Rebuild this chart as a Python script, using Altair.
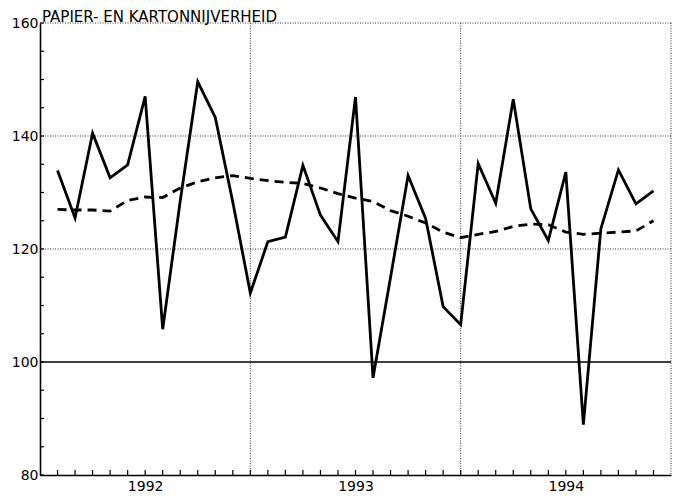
import altair as alt
import pandas as pd

# month index: 1 = Feb 1992 boundary ... 35 (36 = end of 1994)
months = list(range(1, 36))
index_values = [133.9, 125.5, 140.5, 132.6, 134.9, 147.0, 105.8, 128.5, 149.6, 143.3, 128.3, 112.2,
                121.3, 122.1, 134.8, 126.0, 121.3, 146.9, 97.2, 115.0, 133.0, 125.4, 109.8, 106.6,
                135.1, 128.1, 146.5, 127.1, 121.5, 133.6, 88.9, 123.6, 134.0, 128.0, 130.3]
trend_values = [127.0, 126.9, 126.9, 126.7, 128.6, 129.2, 129.1, 130.8, 131.9, 132.6, 133.0, 132.5,
                132.1, 131.8, 131.6, 130.8, 129.8, 129.0, 128.4, 126.8, 125.8, 124.6, 123.0, 122.0,
                122.6, 123.1, 124.0, 124.4, 124.3, 123.0, 122.6, 122.8, 123.0, 123.2, 125.0]
year_labels = ["1992", "1993", "1994"]
year_label_pos = [6, 18, 30]
year_bounds = [12, 24, 36]
hgrid = [120, 140, 160]
y_labels = [80, 100, 120, 140, 160]
y_minor = list(range(80, 161, 5))
title_text = "PAPIER- EN KARTONNIJVERHEID"

FONT = "DejaVu Sans"
W, H = 631, 452

xs = alt.Scale(domain=[0, 36], nice=False, zero=False)
ys = alt.Scale(domain=[80, 160], nice=False, zero=False)

df = pd.DataFrame({"m": months, "v": index_values, "t": trend_values})

label_expr = " : ".join(
    [f"datum.value == {p} ? '{l}'" for p, l in zip(year_label_pos, year_labels)]) + " : ''"

base = alt.Chart(df)

axes_layer = base.mark_point(opacity=0).encode(
    x=alt.X("m:Q", scale=xs,
            axis=alt.Axis(values=year_label_pos, labelExpr=label_expr, ticks=False, grid=False,
                          domainColor="black", domainWidth=1.6, labelFont=FONT, labelFontSize=14,
                          labelColor="black", labelPadding=4, title=None)),
    y=alt.Y("v:Q", scale=ys,
            axis=alt.Axis(values=y_labels, ticks=False, grid=False, domainColor="black",
                          domainWidth=1.6, labelFont=FONT, labelFontSize=14, labelColor="black",
                          labelPadding=2, title=None)),
)

hgrid_layer = alt.Chart(pd.DataFrame({"g": hgrid})).mark_rule(
    color="#333", strokeWidth=1, strokeDash=[1, 1.5]).encode(y=alt.Y("g:Q", scale=ys))

vgrid_layer = alt.Chart(pd.DataFrame({"g": year_bounds})).mark_rule(
    color="#333", strokeWidth=1, strokeDash=[1, 1.5]).encode(x=alt.X("g:Q", scale=xs))

base100 = alt.Chart(pd.DataFrame({"g": [100]})).mark_rule(
    color="black", strokeWidth=1.6).encode(y=alt.Y("g:Q", scale=ys))

ytick_layer = alt.Chart(pd.DataFrame({"g": y_minor})).mark_rule(
    color="black", strokeWidth=1.2).encode(
    y=alt.Y("g:Q", scale=ys), x=alt.value(0), x2=alt.value(4))

xtick_layer = alt.Chart(pd.DataFrame({"g": months})).mark_rule(
    color="black", strokeWidth=1.2).encode(
    x=alt.X("g:Q", scale=xs), y=alt.value(H), y2=alt.value(H - 5))

solid = base.mark_line(color="black", strokeWidth=2.8, strokeJoin="miter").encode(
    x=alt.X("m:Q", scale=xs), y=alt.Y("v:Q", scale=ys))

dashed = base.mark_line(color="black", strokeWidth=2.8, strokeDash=[9, 6]).encode(
    x=alt.X("m:Q", scale=xs), y=alt.Y("t:Q", scale=ys))

title_layer = alt.Chart(pd.DataFrame({"s": [title_text]})).mark_text(
    align="left", baseline="alphabetic", font=FONT, fontSize=15, color="black").encode(
    x=alt.value(2), y=alt.value(-1), text="s:N")

chart = alt.layer(
    axes_layer, hgrid_layer, vgrid_layer, base100, ytick_layer, xtick_layer,
    dashed, solid, title_layer
).properties(
    width=W, height=H,
    autosize=alt.AutoSizeParams(type="none"),
    padding={"left": 32, "top": 15, "right": 1, "bottom": 18},
    background="white",
).configure_view(stroke=None)

chart.save("out.html", embed_options={"renderer": "svg", "actions": False})
